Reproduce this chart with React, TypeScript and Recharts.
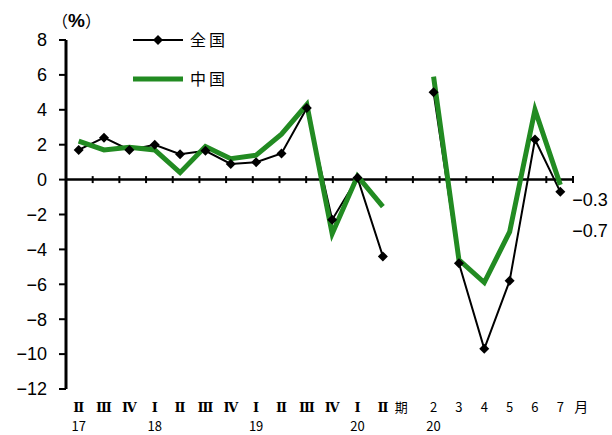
import { LineChart, Line, XAxis, YAxis, ReferenceLine } from 'recharts';

// quarter / month labels along the bottom
const periods = ['Ⅱ', 'Ⅲ', 'Ⅳ', 'Ⅰ', 'Ⅱ', 'Ⅲ', 'Ⅳ', 'Ⅰ', 'Ⅱ', 'Ⅲ', 'Ⅳ', 'Ⅰ', 'Ⅱ', '期', '2', '3', '4', '5', '6', '7'];
const years = ['17', '', '', '18', '', '', '', '19', '', '', '', '20', '', '', '20', '', '', '', '', ''];

// 全国 (black w/ diamonds) and 中国 (green)
const zenkoku = [1.7, 2.4, 1.7, 2.0, 1.45, 1.65, 0.9, 1.0, 1.5, 4.1, -2.3, 0.1, -4.4, null, 5.0, -4.8, -9.7, -5.8, 2.3, -0.7];
const chugoku = [2.2, 1.7, 1.85, 1.7, 0.4, 1.9, 1.2, 1.4, 2.6, 4.3, -3.1, 0.2, -1.55, null, 5.9, -4.6, -5.9, -3.0, 4.0, -0.3];

const yTicks = [-12, -10, -8, -6, -4, -2, 0, 2, 4, 6, 8];
const boundaries = Array.from({ length: periods.length }, (_, i) => i + 1);

const data = periods.map((p, i) => ({
  id: i,
  period: p,
  year: years[i],
  zenkoku: zenkoku[i],
  chugoku: chugoku[i],
}));

const GREEN = '#228B22';
const CJK = '"Noto Sans CJK JP", "Noto Sans", sans-serif';
const LATIN = '"Liberation Sans", Arial, sans-serif';
const ROMAN = '"DejaVu Serif", "Noto Sans CJK JP", serif';

const fmtMinus = (v: number) => (v < 0 ? '−' + Math.abs(v) : String(v));
const isRoman = (s: string) => /[ⅠⅡⅢⅣ]/.test(s);

const PeriodTick = (props: any) => {
  const { x, y, payload } = props;
  const i = payload.value as number;
  const label = periods[i];
  const dx = label === '期' ? -7 : 0;
  return (
    <g>
      <text
        x={x + dx}
        y={y + 15}
        textAnchor="middle"
        fontSize={13}
        fontWeight={isRoman(label) ? 'bold' : 'normal'}
        fontFamily={isRoman(label) ? ROMAN : CJK}
        fill="#000"
      >
        {label}
      </text>
      {label === '7' && (
        <text x={x + 21} y={y + 15} textAnchor="middle" fontSize={14} fontFamily={CJK} fill="#000">
          月
        </text>
      )}
      {years[i] && (
        <text x={x} y={y + 34} textAnchor="middle" fontSize={13} fontFamily={CJK} fill="#000">
          {years[i]}
        </text>
      )}
    </g>
  );
};

const Diamond = (props: any) => {
  const { cx, cy, index } = props;
  if (cx == null || cy == null || props.value == null) return <g key={'d' + index} />;
  const r = 5;
  return (
    <path
      key={'d' + index}
      d={`M${cx},${cy - r}L${cx + r},${cy}L${cx},${cy + r}L${cx - r},${cy}Z`}
      fill="#000"
    />
  );
};

const endLabel = (dy: number) => (props: any) => {
  const { x, y, index, value } = props;
  if (index !== periods.length - 1 || value == null) return <g key={'l' + index} />;
  return (
    <text key={'l' + index} x={x + 12} y={y + dy} fontSize={18} fontFamily={LATIN} fill="#000">
      {fmtMinus(value)}
    </text>
  );
};

export default function App() {
  return (
    <div style={{ position: 'absolute', left: 0, top: 0, width: 612, height: 435, background: '#fff' }}>
      <LineChart width={612} height={435} data={data} margin={{ top: 40, right: 39, bottom: 0, left: 0 }}>
        <XAxis
          dataKey="id"
          type="category"
          scale="band"
          height={46}
          axisLine={false}
          tickLine={false}
          interval={0}
          tick={<PeriodTick />}
        />
        <XAxis xAxisId="q" type="number" domain={[0, periods.length]} hide allowDataOverflow />
        <YAxis
          domain={[-12, 8]}
          ticks={yTicks}
          interval={0}
          width={66}
          axisLine={{ stroke: '#000', strokeWidth: 3 }}
          tickLine={{ stroke: '#000', strokeWidth: 2 }}
          tickSize={7}
          tickMargin={12}
          tickFormatter={fmtMinus}
          tick={{ fill: '#000', fontSize: 18, fontFamily: LATIN }}
          allowDataOverflow
        />
        <ReferenceLine y={0} stroke="#000" strokeWidth={2.5} />
        {boundaries.map((b) => (
          <ReferenceLine
            key={b}
            xAxisId="q"
            segment={[{ x: b, y: -0.2 }, { x: b, y: 0.2 }]}
            stroke="#000"
            strokeWidth={2}
          />
        ))}
        <Line
          dataKey="zenkoku"
          type="linear"
          stroke="#000"
          strokeWidth={2}
          dot={Diamond}
          activeDot={false}
          label={endLabel(45)}
          isAnimationActive={false}
        />
        <Line
          dataKey="chugoku"
          type="linear"
          stroke={GREEN}
          strokeWidth={5}
          dot={false}
          activeDot={false}
          label={endLabel(21)}
          isAnimationActive={false}
        />
      </LineChart>
      {/* unit + legend */}
      <svg style={{ position: 'absolute', left: 0, top: 0 }} width={612} height={120}>
        <text x={52} y={27} fill="#000">
          <tspan fontFamily={CJK} fontSize={16}>（</tspan>
          <tspan fontFamily={LATIN} fontSize={19} fontWeight="bold">%</tspan>
          <tspan fontFamily={CJK} fontSize={16}>）</tspan>
        </text>
        <line x1={133} y1={40} x2={183} y2={40} stroke="#000" strokeWidth={2} />
        <path d="M158,35L163,40L158,45L153,40Z" fill="#000" />
        <text x={190} y={46} fontSize={16} fontFamily={CJK} letterSpacing={3} fill="#000">全国</text>
        <line x1={133} y1={79} x2={183} y2={79} stroke={GREEN} strokeWidth={5} />
        <text x={190} y={85} fontSize={16} fontFamily={CJK} letterSpacing={3} fill="#000">中国</text>
      </svg>
    </div>
  );
}
